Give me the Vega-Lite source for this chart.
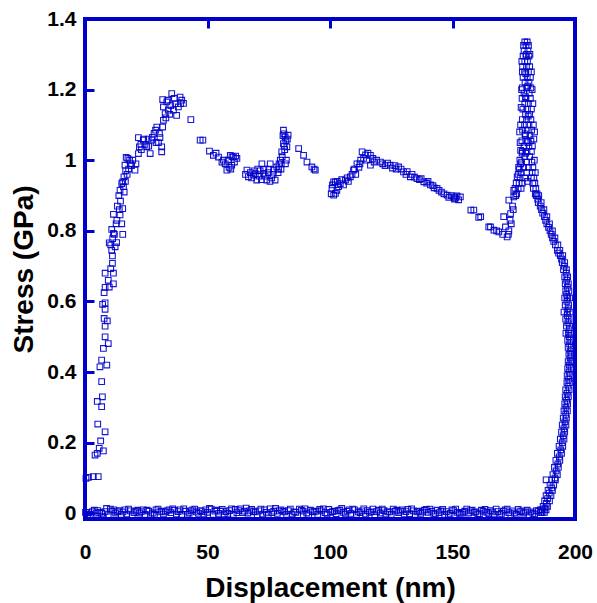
{
  "$schema": "https://vega.github.io/schema/vega-lite/v6.json",
  "width": 490,
  "height": 500,
  "autosize": "none",
  "padding": {"left": 85, "top": 19, "right": 22, "bottom": 84},
  "background": "white",
  "config": {
    "view": {"stroke": "#0000cd", "strokeWidth": 4},
    "axis": {"labelFont": "Liberation Sans", "titleFont": "Liberation Sans", "grid": false}
  },
  "data": {"values": [
    {"x":0.4,"y":0.099},{"x":1.4,"y":0.102},{"x":3.4,"y":0.104},{"x":5.4,"y":0.104},{"x":4.1,"y":0.165},{"x":5.0,"y":0.17},{"x":7.5,"y":0.177},{"x":5.8,"y":0.184},{"x":6.4,"y":0.205},{"x":8.2,"y":0.231},{"x":5.2,"y":0.253},
    {"x":6.8,"y":0.302},{"x":5.0,"y":0.317},{"x":7.1,"y":0.33},{"x":6.8,"y":0.373},{"x":6.1,"y":0.415},{"x":8.9,"y":0.42},{"x":6.8,"y":0.434},{"x":7.5,"y":0.467},{"x":9.5,"y":0.481},{"x":8.2,"y":0.5},{"x":8.2,"y":0.53},{"x":9.1,"y":0.545},{"x":7.8,"y":0.552},{"x":8.2,"y":0.578},{"x":7.2,"y":0.592},{"x":8.2,"y":0.596},{"x":7.8,"y":0.625},{"x":8.2,"y":0.64},{"x":9.9,"y":0.641},{"x":11.6,"y":0.65},{"x":9.5,"y":0.66},{"x":8.2,"y":0.68},{"x":11.6,"y":0.68},{"x":10.5,"y":0.693},{"x":11.2,"y":0.708},{"x":11.2,"y":0.729},{"x":10.9,"y":0.745},{"x":10.5,"y":0.76},{"x":12.3,"y":0.755},{"x":9.9,"y":0.766},{"x":12.9,"y":0.767},{"x":11.3,"y":0.778},{"x":11.6,"y":0.793},{"x":15.4,"y":0.79},{"x":10.9,"y":0.804},{"x":12.7,"y":0.82},{"x":15,"y":0.82},{"x":11.6,"y":0.847},{"x":14.3,"y":0.845},{"x":15.4,"y":0.863},{"x":14.5,"y":0.884},{"x":13.2,"y":0.87},{"x":14.3,"y":0.915},{"x":15.7,"y":0.925},{"x":15.4,"y":0.939},{"x":15,"y":0.934},{"x":15.9,"y":0.953},{"x":16.3,"y":0.986},{"x":16.8,"y":1.008},{"x":17.5,"y":1.005},{"x":18.2,"y":1.0},{"x":16.6,"y":0.97},{"x":17.2,"y":0.96},
    {"x":13.8,"y":0.9},{"x":16,"y":0.91},{"x":17.8,"y":0.975},{"x":18.5,"y":0.99},{"x":13,"y":0.83},{"x":14,"y":0.86},{"x":12,"y":0.79},{"x":16.5,"y":0.94},
    {"x":20.4,"y":0.972},{"x":20.8,"y":0.99},{"x":21.8,"y":1.019},{"x":22.2,"y":1.038},{"x":21.8,"y":1.064},{"x":23.8,"y":1.057},{"x":25.2,"y":1.038},{"x":26.6,"y":1.019},{"x":24.5,"y":1.045},{"x":27.2,"y":1.057},{"x":28.2,"y":1.076},{"x":29.3,"y":1.094},{"x":30.6,"y":1.064},{"x":31.3,"y":1.038},{"x":31.3,"y":1.024},{"x":30.4,"y":1.076},{"x":31.7,"y":1.094},{"x":32,"y":1.113},{"x":32.7,"y":1.132},{"x":32,"y":1.151},{"x":31.7,"y":1.172},{"x":33.4,"y":1.165},{"x":35.4,"y":1.189},{"x":34,"y":1.142},{"x":36.1,"y":1.142},{"x":37.4,"y":1.127},{"x":38.1,"y":1.151},{"x":39.5,"y":1.17},{"x":40.2,"y":1.161},{"x":38.8,"y":1.179},{"x":43.2,"y":1.115},{"x":47,"y":1.057},
    {"x":19,"y":0.985},{"x":23,"y":1.03},{"x":26,"y":1.04},{"x":28.8,"y":1.085},{"x":33,"y":1.12},{"x":35,"y":1.155},{"x":36.8,"y":1.16},{"x":39,"y":1.16},{"x":30,"y":1.05},{"x":19.5,"y":1.0},{"x":22.8,"y":1.045},{"x":27.5,"y":1.065},
    {"x":24,"y":1.06},{"x":25.8,"y":1.06},{"x":29,"y":1.05},{"x":33.8,"y":1.17},{"x":36.5,"y":1.175},{"x":34.6,"y":1.13},
    {"x":48.1,"y":1.057},{"x":50.8,"y":1.026},{"x":52.4,"y":1.014},{"x":54.5,"y":1.009},{"x":55.9,"y":0.995},{"x":57.2,"y":0.99},{"x":57.9,"y":0.972},{"x":59.3,"y":1.014},{"x":60.6,"y":1.009},{"x":62,"y":1.005},{"x":59.9,"y":0.986},{"x":58.5,"y":1.0},{"x":61,"y":0.995},{"x":60,"y":1.01},{"x":61.5,"y":1.012},{"x":58.8,"y":0.98},{"x":53.5,"y":1.02},{"x":56.5,"y":1.0},{"x":59.5,"y":0.975},
    {"x":66.1,"y":0.972},{"x":66.7,"y":0.953},{"x":68.8,"y":0.958},{"x":70.1,"y":0.944},{"x":72.2,"y":0.99},{"x":72.9,"y":0.963},{"x":74.2,"y":0.944},{"x":75.6,"y":0.99},{"x":77.6,"y":0.944},{"x":78.3,"y":0.981},{"x":67.5,"y":0.965},{"x":68,"y":0.95},{"x":69.5,"y":0.962},{"x":71,"y":0.955},{"x":71.5,"y":0.97},{"x":73.5,"y":0.955},{"x":74.8,"y":0.965},{"x":75,"y":0.975},{"x":76.2,"y":0.95},{"x":76.8,"y":0.96},{"x":77,"y":0.972},{"x":69,"y":0.97},{"x":70.5,"y":0.975},{"x":73,"y":0.975},{"x":65.5,"y":0.96},{"x":78.8,"y":0.965},{"x":72,"y":0.945},{"x":75.5,"y":0.94},
    {"x":79.7,"y":1.0},{"x":80.3,"y":1.024},{"x":81,"y":1.047},{"x":81.7,"y":1.066},{"x":81,"y":1.085},{"x":82.9,"y":1.071},{"x":82.4,"y":1.038},{"x":80.5,"y":1.01},{"x":81.5,"y":1.03},{"x":82,"y":1.055},{"x":80.8,"y":1.07},{"x":82.2,"y":1.0},{"x":81.8,"y":0.99},{"x":79.2,"y":0.99},{"x":80,"y":0.975},{"x":81.3,"y":1.04},{"x":82.6,"y":1.06},{"x":81.2,"y":1.075},{"x":80.1,"y":0.99},{"x":79,"y":0.975},
    {"x":87.2,"y":1.033},{"x":89.2,"y":1.014},{"x":90.6,"y":0.995},{"x":92.6,"y":0.981},{"x":94,"y":0.972},{"x":93.5,"y":0.975},
    {"x":101.5,"y":0.939},{"x":102.2,"y":0.906},{"x":103.5,"y":0.925},{"x":101.5,"y":0.901},{"x":100.8,"y":0.92},{"x":102.2,"y":0.939},{"x":104.2,"y":0.934},{"x":106.3,"y":0.944},{"x":108.3,"y":0.953},{"x":109.6,"y":0.972},{"x":111,"y":0.99},{"x":113.1,"y":1.024},{"x":113.7,"y":1.005},{"x":116.5,"y":1.014},{"x":116.5,"y":0.986},{"x":120.6,"y":0.995},{"x":124.6,"y":0.986},{"x":128,"y":0.981},{"x":130,"y":0.967},{"x":132.8,"y":0.953},{"x":135.5,"y":0.948},{"x":138.3,"y":0.939},{"x":141,"y":0.93},{"x":143.7,"y":0.92},{"x":147.8,"y":0.901},{"x":150.5,"y":0.896},{"x":153.2,"y":0.896},
    {"x":100.5,"y":0.905},{"x":101,"y":0.93},{"x":102.8,"y":0.915},{"x":103,"y":0.94},{"x":104.8,"y":0.945},{"x":105.5,"y":0.93},{"x":107,"y":0.95},{"x":107.5,"y":0.94},{"x":109,"y":0.96},{"x":110,"y":0.975},{"x":110.5,"y":0.96},{"x":111.8,"y":0.98},{"x":112.5,"y":1.0},{"x":112.2,"y":0.99},{"x":114.5,"y":1.015},{"x":115,"y":1.0},{"x":115.5,"y":1.02},{"x":117.5,"y":1.005},{"x":118,"y":0.995},{"x":119,"y":1.0},{"x":121.5,"y":0.99},{"x":122.5,"y":0.985},{"x":123.5,"y":0.992},{"x":125.5,"y":0.978},{"x":126.5,"y":0.985},{"x":127,"y":0.975},{"x":129,"y":0.975},{"x":131,"y":0.96},{"x":131.5,"y":0.968},{"x":133.5,"y":0.96},{"x":134.5,"y":0.952},{"x":136.5,"y":0.945},{"x":137.2,"y":0.948},{"x":139.5,"y":0.935},{"x":140,"y":0.94},{"x":142,"y":0.928},{"x":142.5,"y":0.922},{"x":144.5,"y":0.915},{"x":145.5,"y":0.91},{"x":146.5,"y":0.905},{"x":148.5,"y":0.895},{"x":149.5,"y":0.9},{"x":151.2,"y":0.893},{"x":151.8,"y":0.899},{"x":152.5,"y":0.888},{"x":150.8,"y":0.89},
    {"x":157.5,"y":0.859},{"x":158.7,"y":0.859},{"x":160.7,"y":0.838},{"x":161.5,"y":0.84},{"x":164.8,"y":0.811},{"x":165.5,"y":0.811},{"x":166.9,"y":0.802},{"x":168,"y":0.8},{"x":168.9,"y":0.797},{"x":170.5,"y":0.79},{"x":172.3,"y":0.783},{"x":171.6,"y":0.811},{"x":170.9,"y":0.84},{"x":173,"y":0.8},{"x":173.7,"y":0.849},{"x":173,"y":0.887},{"x":174.5,"y":0.87},{"x":175,"y":0.896},{"x":175,"y":0.915},{"x":175.5,"y":0.92},{"x":176.4,"y":0.953},{"x":177,"y":0.98},{"x":177.8,"y":0.99},{"x":177.8,"y":1.028},{"x":178.4,"y":1.02},{"x":174,"y":0.82},{"x":172.8,"y":0.79},{"x":174.8,"y":0.86},{"x":175.8,"y":0.9},{"x":176,"y":0.935},{"x":176.8,"y":0.96},{"x":173.5,"y":0.83},
    {"x":179.5,"y":1.335},{"x":180.5,"y":1.335},{"x":179,"y":1.325},{"x":180,"y":1.325},{"x":181,"y":1.325},{"x":179.2,"y":1.31},{"x":180.8,"y":1.31},{"x":178.8,"y":1.295},{"x":180,"y":1.295},{"x":181.2,"y":1.295},{"x":179.5,"y":1.28},{"x":180.6,"y":1.28},{"x":178.6,"y":1.265},{"x":180.2,"y":1.265},{"x":181.5,"y":1.265},{"x":179.4,"y":1.25},{"x":181,"y":1.25},{"x":178.8,"y":1.235},{"x":180.5,"y":1.235},{"x":181.8,"y":1.235},{"x":179.6,"y":1.22},{"x":181.2,"y":1.22},{"x":178.5,"y":1.205},{"x":180.3,"y":1.205},{"x":182,"y":1.205},{"x":179.2,"y":1.19},{"x":181.3,"y":1.19},{"x":178.4,"y":1.175},{"x":180,"y":1.175},{"x":181.8,"y":1.175},{"x":179.5,"y":1.16},{"x":181,"y":1.16},{"x":178.7,"y":1.145},{"x":180.6,"y":1.145},{"x":182.2,"y":1.145},{"x":179.8,"y":1.13},{"x":181.5,"y":1.13},{"x":178.5,"y":1.115},{"x":180.2,"y":1.115},{"x":182,"y":1.115},{"x":179.4,"y":1.1},{"x":181.2,"y":1.1},{"x":178.6,"y":1.085},{"x":180.5,"y":1.085},{"x":182.3,"y":1.085},{"x":179.8,"y":1.07},{"x":181.6,"y":1.07},{"x":178.3,"y":1.055},{"x":180.3,"y":1.055},{"x":182,"y":1.055},{"x":179.2,"y":1.04},{"x":181.2,"y":1.04},{"x":182.6,"y":1.04},{"x":178.5,"y":1.025},{"x":180.4,"y":1.025},{"x":182.2,"y":1.025},{"x":179.5,"y":1.01},{"x":181.5,"y":1.01},{"x":178.2,"y":0.995},{"x":180.2,"y":0.995},{"x":182.4,"y":0.995},{"x":179,"y":0.98},{"x":181,"y":0.98},{"x":182.8,"y":0.98},{"x":178,"y":0.965},{"x":180.3,"y":0.965},{"x":182.5,"y":0.965},{"x":177.6,"y":0.95},{"x":179.5,"y":0.95},{"x":182.2,"y":0.95},{"x":183.2,"y":0.95},{"x":177.2,"y":0.935},{"x":178.5,"y":0.935},{"x":182.8,"y":0.935},{"x":183.6,"y":0.935},{"x":176.8,"y":0.92},{"x":178,"y":0.92},{"x":183,"y":0.92},{"x":184,"y":0.92},{"x":176.2,"y":0.905},{"x":183.8,"y":0.905},{"x":184.5,"y":0.905},
    {"x":177.8,"y":1.1},{"x":183,"y":1.1},{"x":177.6,"y":1.05},{"x":183.2,"y":1.06},{"x":177.5,"y":1.0},{"x":183.4,"y":1.0},{"x":178,"y":1.15},{"x":182.8,"y":1.16},{"x":178.2,"y":1.2},{"x":182.5,"y":1.2},{"x":178.5,"y":1.25},{"x":182.2,"y":1.25},{"x":180.8,"y":1.05},{"x":179.6,"y":1.075},{"x":180.9,"y":1.125},{"x":179.8,"y":1.18},{"x":180.7,"y":1.21},{"x":179.9,"y":1.245},{"x":180.1,"y":1.3},{"x":181.6,"y":1.3},{"x":178.3,"y":1.28},{"x":177.4,"y":1.08},{"x":183.5,"y":1.08},{"x":177.3,"y":0.975},{"x":183.8,"y":0.965},{"x":180.6,"y":0.94},{"x":179.9,"y":1.02},
    {"x":184.2,"y":0.9},{"x":185.2,"y":0.9},{"x":185,"y":0.88},{"x":186.2,"y":0.88},{"x":186.3,"y":0.86},{"x":187.3,"y":0.86},{"x":187.5,"y":0.84},{"x":188.5,"y":0.84},{"x":188.5,"y":0.82},{"x":189.6,"y":0.82},{"x":189.8,"y":0.8},{"x":190.8,"y":0.8},{"x":190.8,"y":0.78},{"x":191.8,"y":0.78},{"x":192,"y":0.76},{"x":193,"y":0.76},{"x":192.8,"y":0.745},{"x":193.8,"y":0.745},{"x":194,"y":0.73},{"x":195,"y":0.73},{"x":194.8,"y":0.71},{"x":195.8,"y":0.71},{"x":195.3,"y":0.69},{"x":196.5,"y":0.69},{"x":195.8,"y":0.67},{"x":197,"y":0.67},{"x":196,"y":0.65},{"x":197.3,"y":0.65},{"x":196.2,"y":0.63},{"x":197.5,"y":0.63},{"x":195.8,"y":0.61},{"x":197,"y":0.61},{"x":197.8,"y":0.61},{"x":196,"y":0.59},{"x":197.4,"y":0.59},{"x":195.5,"y":0.57},{"x":196.8,"y":0.57},{"x":198,"y":0.57},{"x":196.2,"y":0.55},{"x":197.6,"y":0.55},{"x":196.5,"y":0.53},{"x":197.8,"y":0.53},{"x":196.3,"y":0.51},{"x":197.3,"y":0.51},{"x":198.2,"y":0.51},{"x":197,"y":0.49},{"x":198.3,"y":0.49},{"x":197.2,"y":0.47},{"x":198.5,"y":0.47},{"x":197.5,"y":0.45},{"x":198.6,"y":0.45},{"x":197.2,"y":0.43},{"x":198.3,"y":0.43},{"x":198.8,"y":0.43},{"x":197,"y":0.41},{"x":198.4,"y":0.41},{"x":196.8,"y":0.39},{"x":198,"y":0.39},{"x":196.7,"y":0.37},{"x":197.9,"y":0.37},{"x":196.2,"y":0.35},{"x":197.6,"y":0.35},{"x":196,"y":0.33},{"x":197.3,"y":0.33},{"x":195.8,"y":0.31},{"x":197,"y":0.31},{"x":195.5,"y":0.29},{"x":196.9,"y":0.29},{"x":195.2,"y":0.27},{"x":196.5,"y":0.27},{"x":194.8,"y":0.25},{"x":196.3,"y":0.25},{"x":194.5,"y":0.23},{"x":195.8,"y":0.23},{"x":194,"y":0.21},{"x":195.5,"y":0.21},{"x":193.5,"y":0.19},{"x":195,"y":0.19},{"x":192.8,"y":0.17},{"x":194.5,"y":0.17},{"x":192.2,"y":0.15},{"x":193.8,"y":0.15},{"x":191.6,"y":0.13},{"x":193.2,"y":0.13},{"x":191,"y":0.11},{"x":192.8,"y":0.11},{"x":188.2,"y":0.095},{"x":190.5,"y":0.095},{"x":192,"y":0.095},{"x":189.8,"y":0.08},{"x":191.3,"y":0.08},{"x":189,"y":0.065},{"x":190.8,"y":0.065},{"x":188.2,"y":0.05},{"x":190.2,"y":0.05},{"x":187.6,"y":0.035},{"x":189.6,"y":0.035},{"x":187,"y":0.02},{"x":188.8,"y":0.02},{"x":186.5,"y":0.01},{"x":188.2,"y":0.01},{"x":186,"y":0.003},{"x":187.5,"y":0.003},
    {"x":184.8,"y":0.89},{"x":185.8,"y":0.87},{"x":186.8,"y":0.85},{"x":188,"y":0.83},{"x":189.2,"y":0.81},{"x":190.3,"y":0.79},{"x":191.3,"y":0.77},{"x":193.3,"y":0.737},{"x":194.5,"y":0.72},{"x":195.6,"y":0.7},{"x":196.4,"y":0.68},{"x":196.6,"y":0.66},{"x":196.9,"y":0.64},{"x":196.6,"y":0.62},{"x":196.7,"y":0.6},{"x":197.2,"y":0.58},{"x":196.9,"y":0.56},{"x":197.1,"y":0.54},{"x":197.6,"y":0.52},{"x":197.7,"y":0.5},{"x":197.8,"y":0.48},{"x":198,"y":0.46},{"x":198,"y":0.44},{"x":197.7,"y":0.42},{"x":197.6,"y":0.4},{"x":197.4,"y":0.38},{"x":197.2,"y":0.36},{"x":196.8,"y":0.34},{"x":196.6,"y":0.32},{"x":196.3,"y":0.3},{"x":196.2,"y":0.28},{"x":195.9,"y":0.26},{"x":195.5,"y":0.24},{"x":195.2,"y":0.22},{"x":194.8,"y":0.2},{"x":194.2,"y":0.18},{"x":193.6,"y":0.16},{"x":193,"y":0.14},{"x":192.3,"y":0.12},{"x":191.8,"y":0.1},{"x":190.5,"y":0.072},{"x":189.5,"y":0.057},{"x":188.8,"y":0.042},{"x":188.3,"y":0.028},{"x":187.7,"y":0.015},
    {"x":186.5,"y":0.002},{"x":185,"y":0.006},{"x":183.5,"y":-0.002},{"x":182,"y":0.004},{"x":180.5,"y":0.009},{"x":179,"y":0.001},{"x":177.5,"y":0.005},{"x":176,"y":-0.003},{"x":174.5,"y":0.007},{"x":173,"y":0.002},{"x":171.5,"y":0.01},{"x":170,"y":0.0},{"x":168.5,"y":0.005},{"x":167,"y":-0.002},{"x":165.5,"y":0.008},{"x":164,"y":0.003},{"x":162.5,"y":0.006},{"x":161,"y":-0.001},{"x":159.5,"y":0.004},{"x":158,"y":0.009},{"x":156.5,"y":0.001},{"x":155,"y":0.006},{"x":153.5,"y":-0.003},{"x":152,"y":0.003},{"x":150.5,"y":0.008},{"x":149,"y":0.0},{"x":147.5,"y":0.005},{"x":146,"y":0.011},{"x":144.5,"y":0.002},{"x":143,"y":-0.002},{"x":141.5,"y":0.006},{"x":140,"y":0.003},{"x":138.5,"y":0.009},{"x":137,"y":0.0},{"x":135.5,"y":0.004},{"x":134,"y":0.007},{"x":132.5,"y":-0.001},{"x":131,"y":0.005},{"x":129.5,"y":0.01},{"x":128,"y":0.002},{"x":126.5,"y":0.006},{"x":125,"y":-0.003},{"x":123.5,"y":0.004},{"x":122,"y":0.008},{"x":120.5,"y":0.001},{"x":119,"y":0.005},{"x":117.5,"y":0.012},{"x":116,"y":0.003},{"x":114.5,"y":-0.002},{"x":113,"y":0.007},{"x":111.5,"y":0.004},{"x":110,"y":0.01},{"x":108.5,"y":0.0},{"x":107,"y":0.006},{"x":105.5,"y":0.003},{"x":104,"y":0.009},{"x":102.5,"y":-0.001},{"x":101,"y":0.005},{"x":99.5,"y":0.011},{"x":98,"y":0.002},{"x":96.5,"y":0.007},{"x":95,"y":-0.003},{"x":93.5,"y":0.004},{"x":92,"y":0.009},{"x":90.5,"y":0.001},{"x":89,"y":0.006},{"x":87.5,"y":0.012},{"x":86,"y":0.003},{"x":84.5,"y":-0.002},{"x":83,"y":0.008},{"x":81.5,"y":0.004},{"x":80,"y":0.01},{"x":78.5,"y":0.0},{"x":77,"y":0.006},{"x":75.5,"y":0.013},{"x":74,"y":0.003},{"x":72.5,"y":-0.002},{"x":71,"y":0.007},{"x":69.5,"y":0.004},{"x":68,"y":0.011},{"x":66.5,"y":0.001},{"x":65,"y":0.006},{"x":63.5,"y":0.013},{"x":62,"y":0.002},{"x":60.5,"y":-0.003},{"x":59,"y":0.008},{"x":57.5,"y":0.005},{"x":56,"y":0.011},{"x":54.5,"y":0.0},{"x":53,"y":0.006},{"x":51.5,"y":0.012},{"x":50,"y":0.003},{"x":48.5,"y":-0.002},{"x":47,"y":0.008},{"x":45.5,"y":0.004},{"x":44,"y":0.01},{"x":42.5,"y":0.001},{"x":41,"y":0.006},{"x":39.5,"y":-0.003},{"x":38,"y":0.005},{"x":36.5,"y":0.009},{"x":35,"y":0.002},{"x":33.5,"y":0.007},{"x":32,"y":-0.002},{"x":30.5,"y":0.004},{"x":29,"y":0.01},{"x":27.5,"y":0.001},{"x":26,"y":0.006},{"x":24.5,"y":-0.003},{"x":23,"y":0.005},{"x":21.5,"y":0.009},{"x":20,"y":0.002},{"x":18.5,"y":0.007},{"x":17,"y":-0.002},{"x":15.5,"y":0.004},{"x":14,"y":0.008},{"x":12.5,"y":0.001},{"x":11,"y":0.006},{"x":9.5,"y":-0.004},{"x":8.8,"y":0.014},{"x":7.5,"y":-0.009},{"x":6,"y":0.003},{"x":4.5,"y":0.001},{"x":3,"y":0.005},{"x":1.5,"y":0.002},{"x":0.2,"y":0.003},
    {"x":185.8,"y":0.01},{"x":182.8,"y":0.0},{"x":179.8,"y":0.004},{"x":176.8,"y":0.011},{"x":173.8,"y":-0.004},{"x":170.8,"y":0.006},{"x":167.8,"y":0.012},{"x":164.8,"y":-0.001},{"x":161.8,"y":0.009},{"x":158.8,"y":0.003},{"x":155.8,"y":0.012},{"x":152.8,"y":0.0},{"x":149.8,"y":0.01},{"x":146.8,"y":-0.003},{"x":143.8,"y":0.009},{"x":140.8,"y":0.012},{"x":137.8,"y":0.004},{"x":134.8,"y":-0.003},{"x":131.8,"y":0.011},{"x":128.8,"y":0.006},{"x":125.8,"y":0.012},{"x":122.8,"y":-0.002},{"x":119.8,"y":0.009},{"x":116.8,"y":0.004},{"x":113.8,"y":0.013},{"x":110.8,"y":-0.003},{"x":107.8,"y":0.01},{"x":104.8,"y":0.014},{"x":101.8,"y":0.006},{"x":98.8,"y":-0.002},{"x":95.8,"y":0.011},{"x":92.8,"y":0.005},{"x":89.8,"y":0.013},{"x":86.8,"y":-0.004},{"x":83.8,"y":0.012},{"x":80.8,"y":0.006},{"x":77.8,"y":0.014},{"x":74.8,"y":-0.003},{"x":71.8,"y":0.012},{"x":68.8,"y":0.005},{"x":65.8,"y":0.015},{"x":62.8,"y":0.008},{"x":59.8,"y":0.013},{"x":56.8,"y":-0.002},{"x":53.8,"y":0.009},{"x":50.8,"y":0.014},{"x":47.8,"y":0.005},{"x":44.8,"y":0.012},{"x":41.8,"y":-0.003},{"x":38.8,"y":0.01},{"x":35.8,"y":0.013},{"x":32.8,"y":0.004},{"x":29.8,"y":0.012},{"x":26.8,"y":-0.004},{"x":23.8,"y":0.01},{"x":20.8,"y":0.006},{"x":17.8,"y":0.012},{"x":14.8,"y":-0.003},{"x":11.8,"y":0.01},{"x":8.2,"y":0.005},{"x":5.2,"y":0.008},{"x":2.2,"y":-0.003},
    {"x":184.3,"y":0.008},{"x":181.3,"y":-0.004},{"x":178.3,"y":0.007},{"x":175.3,"y":0.001},{"x":172.3,"y":0.012},{"x":169.3,"y":-0.003},{"x":166.3,"y":0.004},{"x":163.3,"y":0.011},{"x":160.3,"y":-0.002},{"x":157.3,"y":0.007},{"x":154.3,"y":0.003},{"x":151.3,"y":0.012},{"x":148.3,"y":-0.004},{"x":145.3,"y":0.006},{"x":142.3,"y":0.0},{"x":139.3,"y":0.011},{"x":136.3,"y":0.006},{"x":133.3,"y":0.013},{"x":130.3,"y":-0.002},{"x":127.3,"y":0.009},{"x":124.3,"y":0.004},{"x":121.3,"y":0.012},{"x":118.3,"y":-0.004},{"x":115.3,"y":0.008},{"x":112.3,"y":0.002},{"x":109.3,"y":0.012},{"x":106.3,"y":-0.002},{"x":103.3,"y":0.008},{"x":100.3,"y":0.003},{"x":97.3,"y":0.013},{"x":94.3,"y":0.006},{"x":91.3,"y":-0.004},{"x":88.3,"y":0.009},{"x":85.3,"y":0.004},{"x":82.3,"y":-0.003},{"x":79.3,"y":0.007},{"x":76.3,"y":0.002},{"x":73.3,"y":0.01},{"x":70.3,"y":-0.004},{"x":67.3,"y":0.007},{"x":64.3,"y":0.002},{"x":61.3,"y":0.011},{"x":58.3,"y":0.0},{"x":55.3,"y":0.006},{"x":52.3,"y":-0.003},{"x":49.3,"y":0.01},{"x":46.3,"y":0.0},{"x":43.3,"y":0.007},{"x":40.3,"y":0.013},{"x":37.3,"y":-0.002},{"x":34.3,"y":0.01},{"x":31.3,"y":0.006},{"x":28.3,"y":-0.003},{"x":25.3,"y":0.009},{"x":22.3,"y":0.001},{"x":19.3,"y":-0.004},{"x":16.3,"y":0.01},{"x":13.3,"y":0.005},{"x":10.3,"y":0.012},{"x":6.8,"y":0.0},{"x":3.8,"y":0.009},{"x":1,"y":-0.004}
  ]},
  "layer": [
    {
      "mark": {"type": "point", "shape": "square", "filled": false, "size": 32, "strokeWidth": 1.1, "stroke": "#0000cc", "opacity": 0.9},
      "encoding": {
        "x": {"field": "x", "type": "quantitative", "scale": {"domain": [0, 200], "nice": false, "zero": false},
          "axis": {"orient": "bottom", "values": [0, 50, 100, 150, 200], "domain": false, "ticks": false, "labelPadding": 22, "labelFlush": false, "labelFontSize": 21, "labelFontWeight": "bold", "labelColor": "black", "title": "Displacement (nm)", "titleFontSize": 28, "titleFontWeight": "bold", "titleColor": "black", "titlePadding": 12}},
        "y": {"field": "y", "type": "quantitative", "scale": {"domain": [-0.016, 1.4], "nice": false, "zero": false},
          "axis": {"values": [0, 0.2, 0.4, 0.6, 0.8, 1, 1.2, 1.4], "format": "~g", "domain": false, "tickSize": -9, "tickWidth": 3, "tickColor": "#0000cd", "labelPadding": 18, "labelFontSize": 21, "labelFontWeight": "bold", "labelColor": "black", "title": "Stress (GPa)", "titleFontSize": 28, "titleFontWeight": "bold", "titleColor": "black", "titlePadding": 8}}
      }
    },
    {
      "mark": {"type": "point", "opacity": 0},
      "encoding": {
        "x": {"field": "x", "type": "quantitative",
          "axis": {"orient": "top", "values": [50, 100, 150], "domain": false, "labels": false, "title": null, "tickSize": -9, "tickWidth": 3, "tickColor": "#0000cd"}}
      }
    }
  ],
  "resolve": {"axis": {"x": "independent"}}
}
